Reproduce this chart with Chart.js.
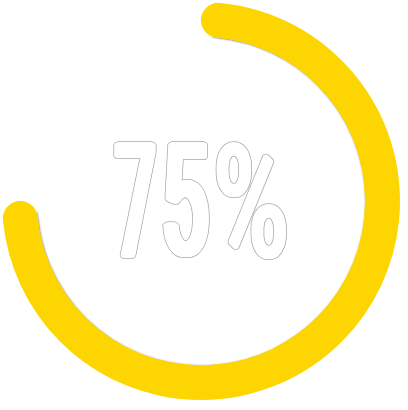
<!DOCTYPE html>
<html>
<head>
<meta charset="utf-8">
<script src="https://cdn.jsdelivr.net/npm/chart.js@4/dist/chart.umd.min.js"></script>
<style>
  html, body { margin: 0; padding: 0; background: #ffffff; }
  #wrap { width: 408px; height: 410px; position: relative; }
</style>
</head>
<body>
<div id="wrap"><canvas id="c" width="408" height="410"></canvas></div>
<script>
const labels = ['Complete', 'Remaining'];
const values = [75, 25];
const centerLabel = '75%';

const innerShadow = {
  id: 'innerShadow',
  beforeDatasetsDraw(chart) {
    const meta = chart.getDatasetMeta(0);
    const arc = meta.data[0];
    if (!arc) return;
    const ctx = chart.ctx;
    const p = arc.getProps(['x', 'y', 'innerRadius'], true);
    ctx.save();
    ctx.beginPath();
    ctx.arc(p.x, p.y, p.innerRadius + 0.3, 0, Math.PI * 2);
    ctx.clip();
    ctx.shadowColor = 'rgba(0,0,0,0.55)';
    ctx.shadowBlur = 2;
    ctx.shadowOffsetX = 0.5;
    ctx.shadowOffsetY = 0.5;
    arc.draw(ctx);
    ctx.restore();
  }
};

// Condensed outlined label: each glyph is fitted into its own slot of the
// label box (slots are fractions of the total label width), thickened and outlined.
const centerText = {
  id: 'centerText',
  afterDatasetsDraw(chart) {
    const meta = chart.getDatasetMeta(0);
    const arc = meta.data[0];
    if (!arc) return;
    const ctx = chart.ctx;
    const family = "Roboto, 'DejaVu Sans Condensed', sans-serif";
    const boxW = 174, boxH = 119;
    const left = arc.x - 1 - boxW / 2, top = arc.y - 0.5 - boxH / 2;
    const chars = Array.from(centerLabel);
    // slot start/end as fractions of box width, and thickening (rx, ry)
    const slots = chars.map(ch => ch === '%'
      ? { w: 72, rx: 2.5, ry: 2 }
      : { w: ch === '7' ? 44 : 48, rx: 4, ry: 2.2 });
    const gap = (boxW - slots.reduce((a, s) => a + s.w, 0)) / Math.max(1, chars.length - 1);
    let xCursor = left;
    chars.forEach((ch, i) => {
      const s = slots[i];
      const rawW = s.w - 2 * (s.rx + 1), rawH = boxH - 2 * (s.ry + 1);
      ctx.save();
      let size = 100;
      ctx.font = 'normal ' + size + 'px ' + family;
      let m = ctx.measureText(ch);
      size = size * rawH / (m.actualBoundingBoxAscent + m.actualBoundingBoxDescent);
      ctx.font = 'normal ' + size + 'px ' + family;
      m = ctx.measureText(ch);
      const w = m.actualBoundingBoxLeft + m.actualBoundingBoxRight;
      const sx = rawW / w;
      const gx = xCursor + s.rx + 1;
      const gy = top + s.ry + 1 + m.actualBoundingBoxAscent;
      ctx.translate(gx, gy);
      ctx.scale(sx, 1);
      ctx.textAlign = 'left';
      ctx.textBaseline = 'alphabetic';
      const x0 = m.actualBoundingBoxLeft;
      function blob(rx, ry, color) {
        ctx.fillStyle = color;
        const R = Math.ceil(Math.max(rx, ry));
        for (let dy = -R; dy <= R; dy += 0.5) {
          for (let dx = -R; dx <= R; dx += 0.5) {
            if ((dx * dx) / (rx * rx) + (dy * dy) / (ry * ry) <= 1) {
              ctx.fillText(ch, x0 + dx / sx, dy);
            }
          }
        }
      }
      blob(s.rx + 1, s.ry + 1, '#bdbdbd');
      blob(s.rx, s.ry, '#ffffff');
      ctx.restore();
      xCursor += s.w + gap;
    });
  }
};

new Chart(document.getElementById('c'), {
  type: 'doughnut',
  data: {
    labels: labels,
    datasets: [{
      data: values,
      backgroundColor: ['#FDD500', 'rgba(0,0,0,0)'],
      borderWidth: 0,
      borderRadius: 18,
      hoverOffset: 0
    }]
  },
  options: {
    responsive: false,
    animation: false,
    cutout: '82.5%',
    rotation: 0,
    layout: { padding: { left: 2, top: 2, right: 8, bottom: 10 } },
    events: [],
    plugins: {
      legend: { display: false },
      tooltip: { enabled: false }
    }
  },
  plugins: [innerShadow, centerText]
});
</script>
</body>
</html>
